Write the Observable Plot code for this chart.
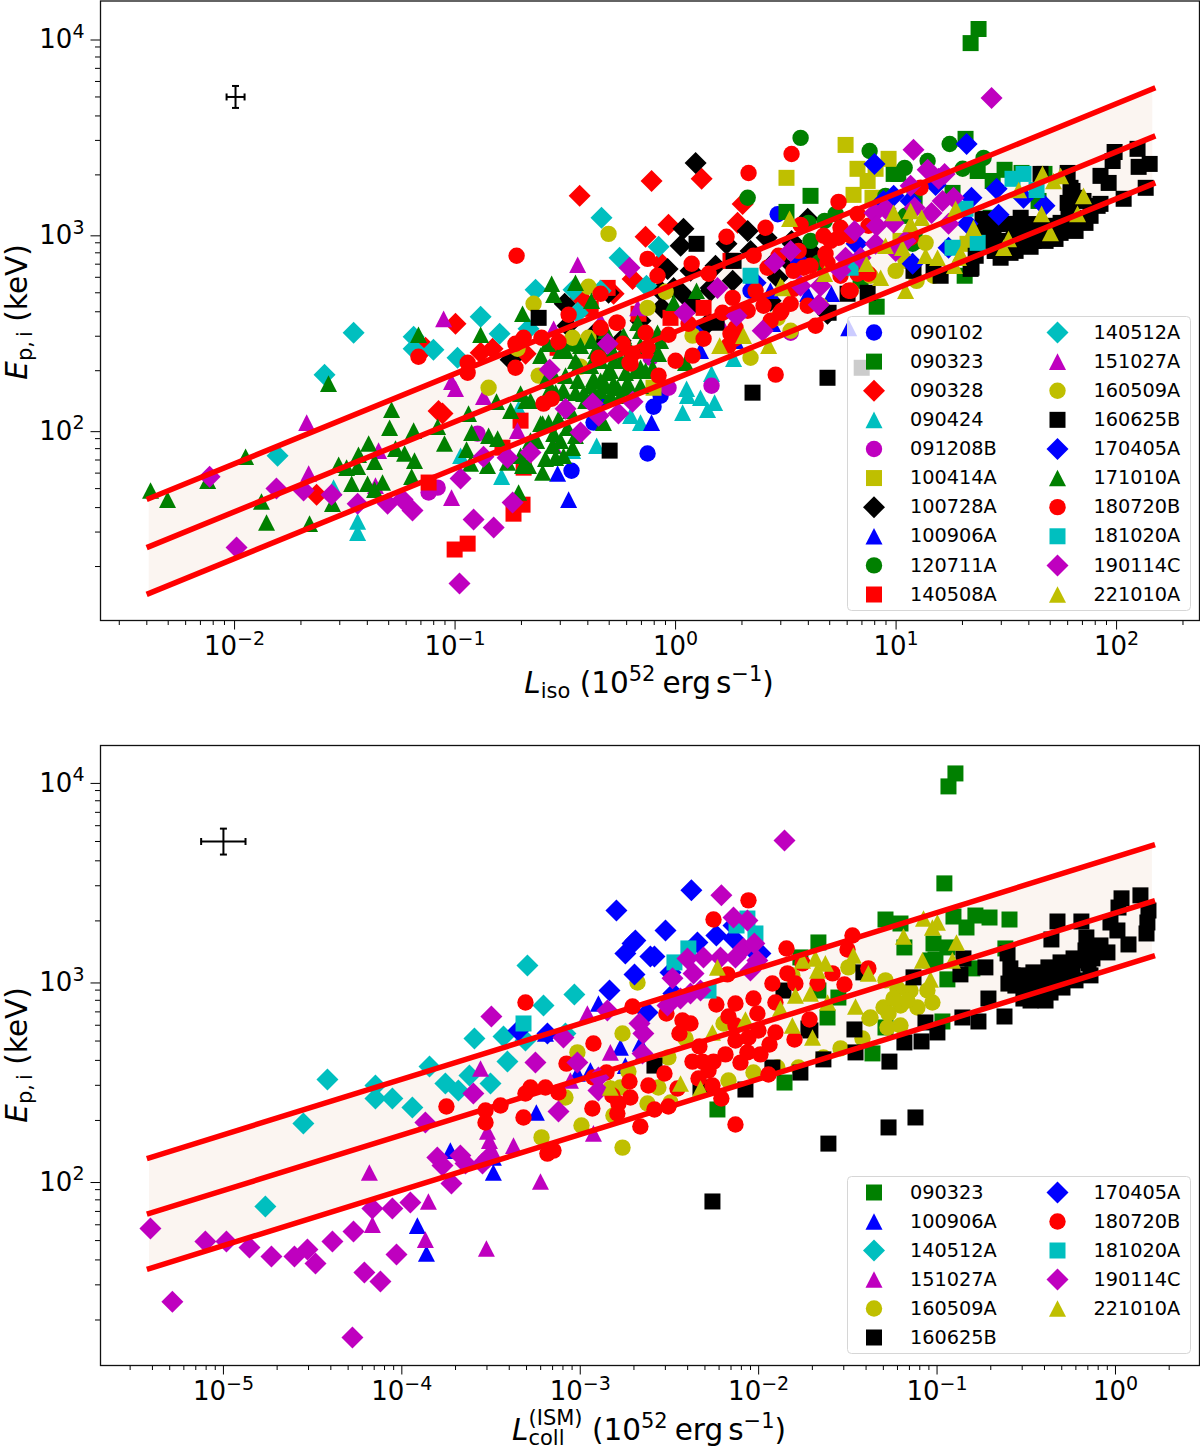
<!DOCTYPE html>
<html><head><meta charset="utf-8">
<script src="https://cdn.jsdelivr.net/npm/d3@7"></script>
<script src="https://cdn.jsdelivr.net/npm/@observablehq/plot@0.6"></script>
<style>html,body{margin:0;padding:0;background:#fff}#page{position:relative;width:1200px;height:1449px;overflow:hidden}#page>svg{display:block}</style>
</head><body><div id="page"></div>
<script>
// All pairs as [log10 luminosity, log10 Ep,i]
const iso090102=[[-.472,1.79],[-.127,1.878],[-.10,2.117],[-.372,2.036],[.463,3.10],[-.068,2.173],[.113,2.505],[.34,2.709]];
const iso090323=[[1.374,4.046],[1.338,3.974],[.503,3.112],[.612,3.194],[.989,3.306],[1.492,3.327],[1.569,3.311],[1.315,3.485],[1.37,3.321],[1.438,3.27],[1.673,3.306],[1.646,3.168],[.912,2.628],[1.311,2.786],[1.256,3.209],[1.084,3.184],[1.429,3.082],[1.084,2.964],[.839,2.76],[1.01,3.306]];
const iso090328=[[-.435,3.194],[-.109,3.27],[.118,3.281],[.304,3.153],[.281,3.056],[-.032,3.046],[-.136,2.985],[-.195,2.77],[-.998,2.541],[-.431,2.673],[-1.057,2.082],[-.83,2.413],[-.884,2.393],[-.68,2.388],[-1.628,1.668],[-1.134,2.418],[-.281,2.694],[-.068,2.852],[-1.075,2.095]];
const iso090424=[[.05,2.209],[.054,2.173],[.032,2.087],[.113,2.163],[.145,2.102],[.177,2.138],[-.159,2.036],[-.204,2.071],[-.358,1.918],[-.789,1.76],[-.975,1.867],[-.712,2.107],[.163,2.286],[.263,2.362],[-.467,1.893],[-1.442,1.531],[-1.442,1.474],[-1.551,1.704]];
const iso091208B=[[-.898,1.98],[.163,2.224],[-.032,2.214],[.522,2.495],[-1.12,1.679],[-1.079,1.704],[-.113,2.367]];
const iso100414A=[[.771,3.454],[.503,3.286],[.966,3.383],[.825,3.332],[.871,3.27],[.807,3.199],[.893,3.184],[.907,3.332],[-.10,2.214],[1.324,2.949],[1.02,2.964]];
const iso100728A=[[.091,3.362],[.036,3.026],[.023,2.939],[.231,2.949],[.327,3.015],[.413,2.98],[.599,3.077],[-.036,2.821],[.259,2.76],[.032,2.694],[-.063,2.622],[.526,2.964],[-.503,2.643],[-.748,2.357],[-.304,2.699],[-.49,2.531],[-.159,2.556],[-.249,2.454],[.159,2.709],[.431,2.837],[.52,2.85],[.082,2.643],[.159,2.724],[-.009,2.724],[.145,2.541],[.58,2.898],[.531,2.949],[.612,2.913],[.463,2.776],[.689,2.592],[-.354,2.505],[-.34,2.429],[.068,2.811],[-.068,2.709],[.34,2.913],[.431,2.658],[.181,2.837]];
const iso100906A=[[-.485,1.643],[-.535,1.776],[-.109,2.036],[-.34,2.163],[.785,2.52],[.44,2.541],[.599,2.694],[.707,2.694],[.113,2.403],[.272,2.454],[.43,2.709]];
const iso120711A=[[.567,3.49],[.88,3.423],[1.243,3.459],[1.143,3.372],[1.039,3.337],[1.397,3.388],[1.302,3.332],[.327,3.184],[.603,3.056],[.726,3.102],[.676,3.066],[.952,3.194],[.612,2.964],[.649,2.852],[1.075,2.949],[-.467,2.439],[1.043,3.092]];
const iso140508A=[[-1.002,1.388],[-.943,1.418],[-.735,1.571],[-.694,1.617],[-1.12,1.73],[-.785,1.908],[-.689,1.806],[-.308,2.724],[-.168,2.592],[-.023,2.571],[-.535,2.418],[.127,2.622],[.249,2.862],[-.385,2.617],[-.703,2.046],[-.136,2.403]];
const iso140512A=[[-.336,3.082],[-.254,2.878],[-.077,2.934],[-.132,2.735],[-1.46,2.495],[-1.592,2.281],[-1.805,1.867],[-1.188,2.474],[-1.188,2.413],[-1.098,2.408],[-.989,2.367],[-.884,2.577],[-.798,2.49],[-.712,2.439],[-.635,2.714],[-.463,2.714],[-.444,2.597],[-.667,2.515],[-.34,2.709]];
const iso151027A=[[-1.673,2.036],[-1.664,1.776],[-1.361,1.714],[-1.347,1.893],[-1.052,2.566],[-1.016,2.245],[-.998,2.209],[-.871,2.168],[-.717,1.995],[-1.016,1.653],[-.444,2.842],[-.553,2.515],[-.172,2.622],[-.553,1.918],[-.34,2.556],[.2,2.556]];
const iso160509A=[[-.304,3],[-.395,2.73],[-.644,2.643],[-.848,2.214],[-.127,2.622],[-.467,2.469],[-.045,2.704],[-.621,2.276],[-.431,2.321],[-.717,2.413],[-.395,2.469],[.535,2.898],[.998,2.811],[1.134,2.954],[1.093,2.76],[1.17,2.786],[.34,2.367],[.522,2.505],[.463,2.571],[.077,2.48],[.884,2.786],[.794,2.709],[.658,2.633],[1.043,2.862]];
const iso160625B=[[1.991,3.418],[2.095,3.434],[1.982,3.372],[1.927,3.296],[1.964,3.26],[2.032,3.179],[2.15,3.357],[2.1,3.342],[2.132,3.235],[1.8,3.219],[1.778,3.158],[1.914,3.143],[1.85,3.168],[1.805,3.082],[1.732,3.031],[1.746,3.005],[1.624,2.964],[1.565,3.082],[1.528,3.051],[1.451,2.913],[1.519,2.903],[1.392,3.077],[1.397,3],[1.338,2.821],[1.778,3.311],[1.533,2.98],[1.587,2.949],[1.655,3.306],[1.442,3.005],[1.488,2.964],[1.202,2.786],[1.342,2.827],[.871,2.699],[.78,2.694],[.694,2.597],[.186,2.546],[-.621,2.571],[.689,2.265],[.349,2.189],[-.299,1.893],[.844,2.316],[.263,2.862],[.095,2.949],[1.17,2.827],[1.079,2.811],[1.474,2.939],[1.565,2.964],[1.655,2.99],[1.7,3.041],[1.782,3.092],[1.882,3.092],[1.68,3.01],[1.61,3.05],[1.46,3.05],[1.474,2.878],[1.542,2.913],[1.61,2.934],[1.678,2.964],[1.723,2.974],[1.814,3.015],[1.859,3.056],[1.746,3.056],[1.655,3.026],[1.565,3.005],[1.497,2.939],[1.791,3.107],[1.927,3.153],[1.814,3.184],[1.791,3.235],[1.501,2.913],[1.447,2.913],[1.692,3.015],[1.406,2.964],[1.361,2.888]];
const iso170405A=[[.902,3.357],[1.32,3.459],[1.456,3.23],[1.578,3.184],[1.673,3.143],[1.465,3.097],[1.342,3.184],[1.179,3.25],[.989,3.194],[1.075,2.847],[.363,2.75],[1.238,2.929],[1.324,3.051],[.943,3.168],[.821,2.949],[.567,2.852],[1.066,3.168]];
const iso171010A=[[-2.381,1.689],[-2.304,1.643],[-1.95,1.862],[-2.122,1.74],[-1.574,2.235],[-1.288,2.102],[-1.297,2.01],[-1.188,1.995],[-1.079,2.015],[-1.392,1.929],[-1.438,1.872],[-1.528,1.821],[-1.492,1.806],[-1.442,1.811],[-1.365,1.837],[-1.27,1.903],[-1.229,1.878],[-1.184,1.842],[-1.197,1.76],[-1.469,1.724],[-1.397,1.724],[-1.329,1.73],[-1.365,1.694],[-1.556,1.622],[-1.878,1.633],[-1.855,1.526],[-1.66,1.52],[-1.048,1.929],[-.939,2.082],[-.925,1.985],[-.948,1.898],[-.848,1.969],[-.812,2.143],[-.807,1.954],[-.703,2.184],[-.68,2.148],[-.603,2.031],[-.694,1.816],[-.603,1.781],[-.712,1.679],[-.93,1.827],[-.853,1.816],[-.762,1.832],[-.59,1.852],[-1.166,2.485],[-.884,2.485],[-.694,2.592],[-.612,2.378],[-.562,2.745],[-.553,2.689],[-.454,2.75],[-.381,2.658],[-.172,2.546],[-.236,2.48],[-.082,2.495],[-.009,2.648],[-.381,2.454],[-.58,2.439],[-.567,2.214],[-.512,2.199],[-.444,2.25],[-.372,2.26],[-.308,2.291],[-.263,2.214],[-.218,2.214],[-.159,2.224],[-.104,2.316],[-.281,2.352],[-.077,2.388],[-.159,2.316],[-.34,2.199],[-.667,1.816],[-.544,1.857],[-.508,1.867],[-.467,1.908],[-.703,1.867],[-.612,2.031],[-.576,2.036],[-.531,2.056],[-.49,2.01],[-.417,2.184],[-.372,2.189],[-.553,1.98],[-.327,2.036],[-.508,2.199],[-.544,2.189],[-.281,2.235],[-.218,2.24],[-.295,2.301],[.045,2.342],[.095,2.709],[-.476,2.097],[-.408,2.148],[-.34,2.25],[-.249,2.352],[-.159,2.429],[-.454,2.352],[-.522,2.403],[-.34,2.403],[-.204,2.403],[-.317,2.505],[-.558,2.291],[-.499,2.276],[-.44,2.327],[-.385,2.327],[-.34,2.352],[-.286,2.403],[-.227,2.291],[-.181,2.301],[-.136,2.301],[-.499,2.403],[-.431,2.429],[-.363,2.403],[-.295,2.454],[-.227,2.429],[-.159,2.505],[-.113,2.429],[-.068,2.454],[-.59,2.25],[-.385,2.224],[-.317,2.224],[-.454,2.189],[-.295,2.173],[-.249,2.173],[-.658,2.148],[-.748,2.097],[-.63,1.944],[-.558,1.918],[-.658,1.944],[-.522,1.944],[-.454,1.969]];
const iso180720B=[[-.721,2.888],[-1.166,2.372],[-.943,2.342],[-.943,2.291],[-.726,2.316],[-.726,2.439],[-.689,2.469],[-.608,2.469],[-.531,2.449],[-.485,2.587],[-.34,2.694],[-.34,2.52],[-.263,2.546],[-.127,2.872],[-.082,2.786],[-.136,2.495],[-.032,2.485],[-.24,2.439],[-.349,2.367],[-.127,2.418],[-.195,2.388],[-.204,2.337],[-.077,2.276],[0,2.352],[-.599,2.133],[-.562,2.158],[.526,3.408],[.331,3.311],[.739,3.163],[.073,2.847],[.231,2.985],[.408,3.031],[.567,3.046],[.671,2.99],[.825,3.102],[1.111,3.235],[.748,3.031],[.739,2.98],[.558,2.913],[.68,2.898],[.354,2.888],[.467,2.888],[.15,2.796],[.58,2.827],[.417,2.827],[.535,2.811],[.689,2.852],[.748,2.786],[.825,2.796],[.875,2.796],[.794,2.709],[.259,2.673],[.399,2.633],[.522,2.643],[.476,2.597],[.599,2.633],[.535,2.719],[.635,2.531],[.127,2.464],[.213,2.597],[.327,2.607],[.249,2.49],[.272,2.52],[.059,2.541],[1.066,2.98],[-.268,2.546],[-.209,2.342],[.077,2.378],[.24,2.429],[.268,2.464],[.454,2.281],[.481,2.607],[.785,2.709],[.703,2.964],[.794,2.99],[.875,3.041],[.612,2.837],[.363,2.709],[.431,2.556]];
const iso181020A=[[1.578,3.306],[1.528,3.281],[1.637,3.224],[1.315,3.128],[1.37,2.954],[1.256,2.929],[.34,2.786],[.794,2.827]];
const iso190114C=[[1.433,3.694],[1.079,3.429],[1.143,3.327],[1.22,3.306],[1.211,3.168],[1.261,3.184],[1.161,3.107],[1.238,3.051],[.952,3.128],[1.084,3.133],[.902,3.107],[.812,3.015],[.912,3.041],[.989,3.056],[.449,2.852],[.19,2.724],[.649,2.638],[.658,2.735],[.277,2.582],[.041,2.597],[-.209,2.827],[.907,2.949],[.839,2.878],[.771,2.878],[.395,2.505],[-.308,2.439],[-.571,2.306],[-.499,2.107],[-.376,2.133],[-.259,2.082],[-.195,2.143],[-.349,2.071],[-.431,1.985],[-.658,1.883],[-.762,1.857],[-.871,1.862],[-.975,1.75],[-.739,1.628],[-.916,1.541],[-.825,1.5],[-.98,1.214],[-1.991,1.398],[-2.113,1.76],[-1.81,1.699],[-1.687,1.689],[-1.56,1.668],[-1.442,1.622],[-1.306,1.622],[-1.238,1.643],[-1.193,1.587],[.567,2.735],[.522,2.913],[1.043,2.964],[.998,2.913],[.748,2.811],[1.066,3.245],[1.193,3.281]];
const iso221010A=[[1.664,3.306],[1.714,3.27],[1.746,3.296],[1.85,3.194],[1.823,3.102],[1.66,3.102],[1.7,3.005],[1.51,2.974],[1.488,2.929],[1.556,3.224],[1.351,3.031],[1.27,3.128],[1.283,2.878],[.517,3.077],[.989,3.107],[1.066,3.117],[1.116,3.082],[1.066,3.051],[.952,2.939],[1.029,2.929],[1.134,2.888],[1.188,2.878],[.866,2.847],[.676,2.796],[.485,2.724],[.93,2.776],[1.043,2.709],[1.293,2.898],[1.265,2.837],[.308,2.48],[.2,2.429],[.422,2.429],[.476,2.735]];

const coll090323=[[-.897,4.04],[-.936,3.975],[-.959,3.489],[-1.289,3.308],[-1.205,3.288],[-.908,3.323],[-.785,3.328],[-.835,3.268],[-.706,3.318],[-.594,3.308],[-1.665,3.193],[-1.183,3.168],[-1.02,3.188],[-.942,3.168],[-.617,3.163],[-1.009,3.108],[-.802,3.063],[-.942,3.008],[-1.553,2.917],[-1.614,2.817],[-.97,2.797],[-1.289,2.767],[-1.362,2.637],[-2.231,2.356],[-1.855,2.491],[-1.766,3.118],[-1.665,2.952],[-1.037,3.103]];
const coll100906A=[[-3.246,2.341],[-3.728,2.15],[-3.487,2.04],[-3.913,1.774],[-3.862,1.634],[-2.775,2.667],[-2.898,2.887],[-3.016,2.536],[-2.943,2.551],[-2.747,2.576],[-2.663,2.687],[-3.487,2.115],[-3.195,2.737]];
const coll140512A=[[-4.417,2.506],[-4.552,2.286],[-4.765,1.87],[-4.148,2.476],[-4.148,2.411],[-4.053,2.411],[-3.941,2.366],[-3.845,2.571],[-3.756,2.486],[-3.683,2.451],[-3.621,2.526],[-3.503,2.486],[-3.593,2.712],[-3.43,2.722],[-3.408,2.596],[-3.307,2.702],[-3.296,3.078],[-3.206,2.877],[-3.033,2.932],[-3.083,2.737]];
const coll151027A=[[-4.182,2.04],[-4.165,1.779],[-3.851,1.895],[-3.868,1.704],[-3.526,1.659],[-3.559,2.561],[-3.52,2.246],[-3.509,2.2],[-3.492,2.15],[-3.374,2.175],[-3.223,1.995],[-2.926,2.236],[-3.055,2.501],[-2.96,2.837],[-2.831,2.642],[-2.651,2.637]];
const coll160509A=[[-2.763,2.165],[-3.217,2.216],[-2.993,2.276],[-2.763,2.737],[-3.016,2.642],[-2.73,2.546],[-2.679,2.992],[-2.506,2.617],[-2.197,2.787],[-2.41,2.712],[-2.029,2.541],[-2.169,2.501],[-2.623,2.386],[-2.562,2.466],[-2.494,2.391],[-2.814,2.326],[-2.831,2.461],[-2.775,2.466],[-3.083,2.416],[-1.811,3.028],[-1.497,3.068],[-1.541,2.662],[-1.373,2.817],[-1.637,2.617],[-1.895,2.566],[-1.777,2.566],[-1.289,3.003],[-1.222,2.962],[-1.149,2.952],[-1.054,2.952],[-1.026,2.892],[-1.11,2.867],[-1.205,2.877],[-1.3,2.867],[-1.272,2.837],[-1.205,2.777],[-1.278,2.767],[-1.379,2.812],[-1.418,2.712],[-1.166,2.902],[-1.244,2.912]];
const coll160625B=[[.034,3.414],[.14,3.429],[.017,3.368],[.185,3.353],[-.028,3.293],[.011,3.253],[.179,3.293],[.174,3.238],[-.325,3.298],[-.191,3.298],[-.359,3.208],[.073,3.183],[-.163,3.218],[-.045,3.143],[-.095,3.168],[-.151,3.088],[-.235,3.113],[-.308,3.093],[-.376,3.068],[-.46,3.043],[-.589,3.063],[-.6,2.987],[-.516,2.987],[-.448,2.912],[-.516,2.912],[-.297,2.967],[-.224,3.003],[-.364,3.003],[-.42,2.967],[-.605,3.138],[-.852,3.113],[-.869,3.033],[-.729,3.068],[-1.132,3.018],[-.712,2.912],[-.858,2.817],[-.768,2.797],[-.622,2.822],[-1.065,2.792],[-.998,2.742],[-1.087,2.697],[-1.183,2.692],[-1.463,2.757],[-1.457,2.642],[-1.267,2.596],[-1.637,2.607],[-1.766,2.541],[-1.413,3.043],[-1.71,2.752],[-1.121,2.316],[-1.272,2.266],[-1.609,2.185],[-1.923,2.566],[-2.074,2.456],[-2.584,2.576],[-1.861,2.952],[-1.721,2.762],[-2.326,2.466],[-2.259,1.895],[-.476,2.977],[-.336,3.028],[-.561,2.977],[-.533,3.028],[-.476,2.952],[-.392,3.028],[-.392,2.952],[-.308,3.028],[-.308,2.977],[-.241,3.053],[-.168,3.153],[-.14,3.028],[-.28,3.078],[-.207,3.103],[-.129,3.113],[-.476,2.902],[-.392,2.902],[-.364,2.942],[-.577,3.028],[-.488,3.013],[-.084,3.178]];
const coll170405A=[[-2.377,3.454],[-2.797,3.353],[-2.522,3.253],[-2.707,3.188],[-2.691,3.203],[-2.747,3.138],[-2.607,3.123],[-2.584,3.123],[-2.696,3.033],[-2.237,3.228],[-2.343,3.193],[-2.141,3.213],[-2.141,3.278],[-2.494,3.043],[-2.836,2.952],[-2.623,2.842],[-3.184,2.737],[-3.346,2.752],[-2.478,2.937],[-2.029,3.153],[-1.99,3.138]];
const coll180720B=[[-2.057,3.404],[-2.253,3.308],[-1.844,3.163],[-1.474,3.228],[-1.502,3.158],[-3.307,2.892],[-2.926,2.687],[-2.707,2.872],[-3.077,2.586],[-3.279,2.466],[-3.195,2.466],[-3.122,2.441],[-3.307,2.436],[-3.447,2.376],[-3.531,2.351],[-3.531,2.291],[-3.318,2.316],[-3.184,2.135],[-3.15,2.15],[-2.926,2.516],[-2.853,2.541],[-2.724,2.496],[-2.618,2.476],[-2.528,2.536],[-2.455,2.461],[-2.82,2.426],[-2.719,2.416],[-2.932,2.361],[-2.786,2.386],[-2.792,2.336],[-2.663,2.271],[-2.584,2.356],[-2.506,2.371],[-2.517,2.837],[-2.427,2.802],[-2.382,2.787],[-2.444,2.737],[-2.237,2.882],[-2.175,3.033],[-2.13,2.887],[-2.029,2.912],[-1.923,2.987],[-1.839,3.038],[-1.794,2.987],[-1.67,2.987],[-1.586,3.038],[-1.519,2.982],[-2.169,2.822],[-2.13,2.777],[-2.007,2.837],[-1.906,2.892],[-1.715,2.807],[-1.799,2.707],[-2.001,2.752],[-2.13,2.702],[-2.057,2.717],[-1.906,2.742],[-1.939,2.682],[-2.063,2.642],[-1.99,2.632],[-2.102,2.591],[-2.186,2.632],[-2.332,2.672],[-2.371,2.596],[-2.315,2.596],[-2.253,2.596],[-2.281,2.551],[-2.337,2.511],[-2.259,2.476],[-2.209,2.411],[-1.945,2.531],[-2.13,2.281],[-3.75,2.371],[-1.385,3.063],[-1.754,3.088]];
const coll181020A=[[-3.318,2.787],[-2.472,3.093],[-2.394,3.163],[-2.124,3.278],[-2.018,3.238],[-2.281,2.952],[-2.063,3.313]];
const coll190114C=[[-1.855,3.704],[-2.209,3.429],[-2.141,3.318],[-2.063,3.303],[-2.399,3.113],[-2.309,3.118],[-2.214,3.118],[-2.13,3.118],[-2.085,3.163],[-2.024,3.188],[-2.007,3.103],[-2.046,3.053],[-2.483,3.013],[-2.365,3.038],[-2.382,2.937],[-2.326,2.952],[-2.438,2.912],[-2.511,2.877],[-2.668,2.787],[-2.646,2.737],[-2.651,2.637],[-2.848,2.852],[-3.094,2.717],[-3.498,2.822],[-3.251,2.591],[-3.599,2.436],[-3.016,2.591],[-2.898,2.516],[-2.898,2.451],[-3.122,2.346],[-3.672,2.125],[-3.868,2.291],[-3.801,2.115],[-3.772,2.075],[-3.643,2.085],[-3.548,2.085],[-3.515,2.115],[-3.722,1.985],[-3.952,1.89],[-4.165,1.86],[-4.053,1.86],[-4.271,1.744],[-4.389,1.694],[-4.983,1.694],[-5.101,1.694],[-5.409,1.759],[-4.854,1.664],[-4.731,1.619],[-4.602,1.619],[-4.529,1.654],[-4.484,1.584],[-4.03,1.629],[-4.21,1.539],[-4.12,1.494],[-5.286,1.393],[-4.277,1.213]];
const coll221010A=[[-1.076,3.313],[-.998,3.293],[-1.026,3.268],[-1.188,3.223],[-.891,3.193],[-.914,3.103],[-1.082,3.103],[-1.037,3.008],[-1.469,3.128],[-1.682,3.113],[-1.626,3.088],[-1.67,3.053],[-1.754,3.103],[-1.385,3.038],[-1.457,2.872],[-1.614,2.892],[-1.71,2.937],[-1.698,2.717],[-2.231,3.068],[-1.794,2.927],[-1.878,2.862],[-1.811,2.777],[-2.074,2.807],[-2.259,2.742],[-2.438,2.486],[-2.326,2.461],[-2.831,2.466]];

const isoLineL=[0.0041,146];
const isoUpper=[44.5,5500];
const isoMiddle=[25.3,3126];
const isoLower=[14.6,1799];
const collLineL=[3.85e-6,1.61];
const collUpper=[130,4775];
const collMiddle=[68.4,2500];
const collLower=[36.2,1327];
const isoCross={L:0.0101,E:5000,L1:0.0092,L2:0.0111,E1:4395,E2:5690};
const collCross={L:1e-5,E:5000,L1:7.5e-6,L2:1.33e-5,E1:4300,E2:5800};

const C={b:"#0000ff",g:"#008000",r:"#ff0000",c:"#00bfbf",m:"#bf00bf",y:"#bfbf00",k:"#000000"};
const circle={draw(c){c.moveTo(8.2,0);c.arc(0,0,8.2,0,2*Math.PI);c.closePath()}};
const square={draw(c){c.rect(-8,-8,16,16)}};
const diamond={draw(c){c.moveTo(0,-11);c.lineTo(11,0);c.lineTo(0,11);c.lineTo(-11,0);c.closePath()}};
const triangle={draw(c){c.moveTo(0,-8.3);c.lineTo(8.5,8.3);c.lineTo(-8.5,8.3);c.closePath()}};
const capH={draw(c){c.moveTo(-3.5,0);c.lineTo(3.5,0)}};
const capV={draw(c){c.moveTo(0,-3.5);c.lineTo(0,3.5)}};

const isoSeries=[
 ["090102",iso090102,C.b,circle],["090323",iso090323,C.g,square],["090328",iso090328,C.r,diamond],["090424",iso090424,C.c,triangle],["091208B",iso091208B,C.m,circle],
 ["100414A",iso100414A,C.y,square],["100728A",iso100728A,C.k,diamond],["100906A",iso100906A,C.b,triangle],["120711A",iso120711A,C.g,circle],["140508A",iso140508A,C.r,square],
 ["140512A",iso140512A,C.c,diamond],["151027A",iso151027A,C.m,triangle],["160509A",iso160509A,C.y,circle],["160625B",iso160625B,C.k,square],["170405A",iso170405A,C.b,diamond],
 ["171010A",iso171010A,C.g,triangle],["180720B",iso180720B,C.r,circle],["181020A",iso181020A,C.c,square],["190114C",iso190114C,C.m,diamond],["221010A",iso221010A,C.y,triangle]];
const collSeries=[
 ["090323",coll090323,C.g,square],["100906A",coll100906A,C.b,triangle],["140512A",coll140512A,C.c,diamond],["151027A",coll151027A,C.m,triangle],["160509A",coll160509A,C.y,circle],["160625B",coll160625B,C.k,square],
 ["170405A",coll170405A,C.b,diamond],["180720B",coll180720B,C.r,circle],["181020A",coll181020A,C.c,square],["190114C",coll190114C,C.m,diamond],["221010A",coll221010A,C.y,triangle]];

const FONT="'DejaVu Sans'";
const decades=(a,b)=>d3.range(a,b+1).map(e=>10**e);
const minors=(a,b,dom)=>d3.range(a,b+1).flatMap(e=>d3.range(2,10).map(m=>m*10**e)).filter(v=>v>dom[0]&&v<dom[1]);
const expFmt=d=>String(Math.round(Math.log10(d))).replace("-","\u2212");

function panel(o){
  const rows=o.lineL.map((L,i)=>({L,up:o.upper[i],mid:o.middle[i],lo:o.lower[i]}));
  const cx=o.cross;
  const svg=Plot.plot({
    width:1200,height:o.height,marginLeft:100,marginRight:1,marginTop:o.marginTop,marginBottom:o.marginBottom,
    style:{fontFamily:FONT,fontSize:"26px",background:"transparent",color:"#000"},
    x:{type:"log",domain:o.xDomain,axis:null},
    y:{type:"log",domain:o.yDomain,axis:null},
    marks:[
      Plot.areaY(rows,{x:"L",y1:"lo",y2:"up",fill:"#fbf5f1"}),
      ...o.series.map(([name,pts,color,sym])=>Plot.dot(pts,{x:d=>10**d[0],y:d=>10**d[1],fill:color,symbol:sym,r:8})),
      Plot.ruleY([cx],{y:"E",x1:"L1",x2:"L2",stroke:"#000",strokeWidth:2}),
      Plot.ruleX([cx],{x:"L",y1:"E1",y2:"E2",stroke:"#000",strokeWidth:2}),
      Plot.dot([[cx.L1,cx.E],[cx.L2,cx.E]],{x:"0",y:"1",symbol:capV,stroke:"#000",strokeWidth:2,fill:"none"}),
      Plot.dot([[cx.L,cx.E1],[cx.L,cx.E2]],{x:"0",y:"1",symbol:capH,stroke:"#000",strokeWidth:2,fill:"none"}),
      ...["lo","mid","up"].map(k=>Plot.line(rows,{x:"L",y:k,stroke:"#ff0000",strokeWidth:5.5,strokeLinecap:"square"})),
      Plot.axisX(o.xMinor,{anchor:"bottom",tickSize:5,fill:"none",label:null,stroke:"#000"}),
      Plot.axisY(o.yMinor,{anchor:"left",tickSize:5,fill:"none",label:null,stroke:"#000"}),
      Plot.axisX(o.xMajor,{anchor:"bottom",tickSize:9.5,tickPadding:7,tickFormat:expFmt,label:null,stroke:"#000",fill:"#000",textOverflow:null}),
      Plot.axisY(o.yMajor,{anchor:"left",tickSize:9.5,tickPadding:6.5,tickFormat:expFmt,label:null,stroke:"#000",fill:"#000",dy:2}),
      Plot.frame({stroke:"#111",strokeWidth:1.3,fill:"none"})
    ]
  });
  // power-of-ten tick labels: real text "10" with a raised exponent
  d3.select(svg).selectAll('[aria-label$="tick label"] text').each(function(){
    const t=d3.select(this),e=t.text();
    t.text(null);
    t.append("tspan").text("10");
    t.append("tspan").attr("dy",-10.5).attr("font-size",19).text(e);
  });
  o.labels(d3.select(svg));
  return svg;
}

function unitTail(t,dy0){
  t.append("tspan").attr("dy",dy0).text(" (10");
  t.append("tspan").attr("dy",-12).attr("font-size",21).text("52");
  t.append("tspan").attr("dy",12).attr("dx",7).text("erg");
  t.append("tspan").attr("dx",5).text("s");
  t.append("tspan").attr("dy",-12).attr("font-size",21).text("\u22121");
  t.append("tspan").attr("dy",12).text(")");
}
function yTitle(g,cy){
  const t=g.append("text").attr("transform",`translate(27,${cy}) rotate(-90)`).attr("text-anchor","middle").attr("font-size",29.5);
  t.append("tspan").attr("font-style","italic").text("E");
  t.append("tspan").attr("dy",5).attr("font-size",21).text("p,\u2009i");
  t.append("tspan").attr("dy",-5).text(" (keV)");
}
function legend(series,left,top,h,rowsPerCol){
  const rows=series.map((s,i)=>({name:s[0],color:s[2],sym:s[3],col:Math.floor(i/rowsPerCol),row:i%rowsPerCol}));
  const svg=Plot.plot({
    width:343,height:h,margin:0,
    style:{fontFamily:FONT,fontSize:"19.3px",background:"transparent",position:"absolute",left:left+"px",top:top+"px",overflow:"visible"},
    x:{domain:[0,1],range:[26.5,210],axis:null},
    y:{domain:[0,rowsPerCol-1],range:[16,h-16],axis:null},
    marks:[
      Plot.frame({fill:"#fff",fillOpacity:0.8,stroke:"#d6d6d6",strokeWidth:1,rx:4}),
      ...rows.map(r=>Plot.dot([r],{x:"col",y:"row",fill:r.color,symbol:r.sym,r:8})),
      Plot.text(rows,{x:"col",y:"row",text:"name",textAnchor:"start",dx:36,fill:"#000",fontSize:19.3})
    ]
  });
  return svg;
}

const page=document.getElementById("page");
const xd1=[10**-2.608,10**2.376],yd1=[10**1.0255,10**4.189];
page.appendChild(panel({
  height:725,marginTop:0.5,marginBottom:105,series:isoSeries,lineL:isoLineL,upper:isoUpper,middle:isoMiddle,lower:isoLower,cross:isoCross,
  xDomain:xd1,yDomain:yd1,xMajor:decades(-2,2),yMajor:decades(2,4),xMinor:minors(-3,2,xd1),yMinor:minors(1,4,yd1),
  labels(g){
    const t=g.append("text").attr("x",649).attr("y",693).attr("text-anchor","middle").attr("font-size",29.5);
    t.append("tspan").attr("font-style","italic").text("L");
    t.append("tspan").attr("dy",5).attr("font-size",21).text("iso");
    unitTail(t,-5);
    yTitle(g,312);
  }
}));
const xd2=[10**-5.689,10**0.471],yd2=[10**1.073,10**4.18];
page.appendChild(panel({
  height:724,marginTop:20,marginBottom:84,series:collSeries,lineL:collLineL,upper:collUpper,middle:collMiddle,lower:collLower,cross:collCross,
  xDomain:xd2,yDomain:yd2,xMajor:decades(-5,0),yMajor:decades(2,4),xMinor:minors(-6,0,xd2),yMinor:minors(1,4,yd2),
  labels(g){
    const t=g.append("text").attr("x",512).attr("y",715).attr("text-anchor","start").attr("font-size",29.5);
    t.append("tspan").attr("font-style","italic").text("L");
    t.append("tspan").attr("dy",5).attr("font-size",21).text("coll");
    t.append("tspan").attr("dy",-20).attr("dx",-36).attr("font-size",21).text("(ISM)");
    unitTail(t,15);
    yTitle(g,330);
  }
}));
page.appendChild(legend(isoSeries,847,316,294,10));
page.appendChild(legend(collSeries,847,1176,177,6));
</script>
</body></html>
